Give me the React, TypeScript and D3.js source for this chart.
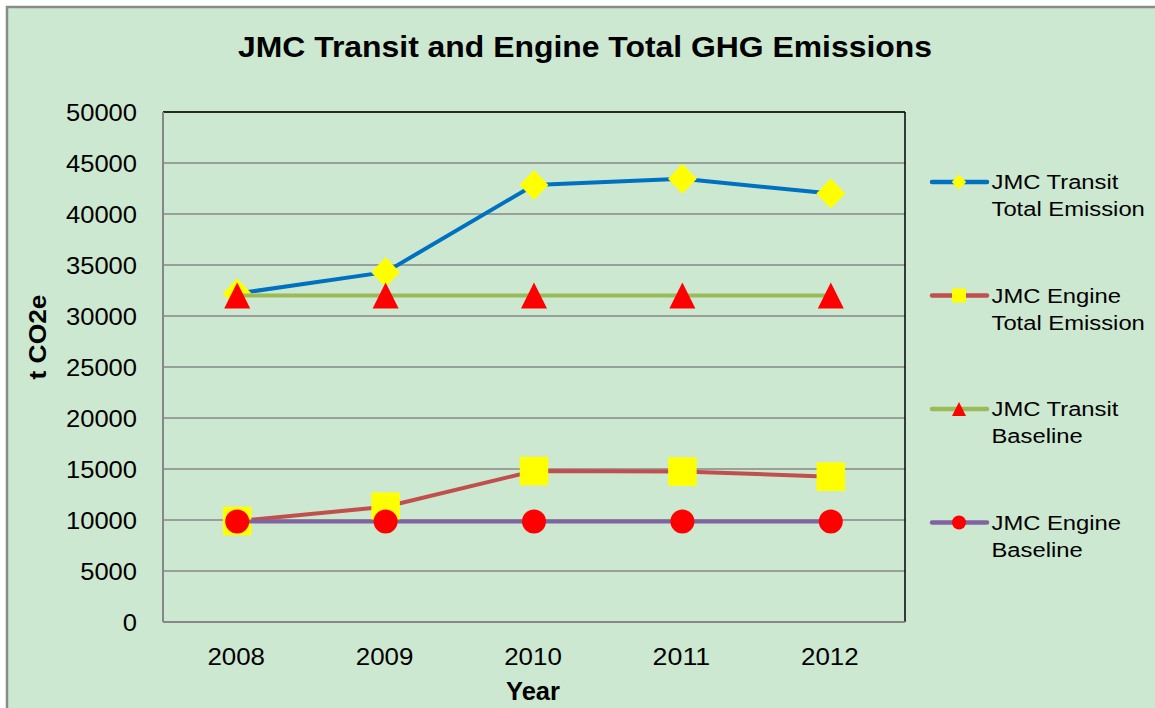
import React from "react";
import * as d3 from "d3";

const years = ["2008", "2009", "2010", "2011", "2012"];
const transitTotal = [32200, 34300, 42850, 43450, 42000];
const engineTotal = [9900, 11300, 14800, 14750, 14250];
const transitBaseline = [32000, 32000, 32000, 32000, 32000];
const engineBaseline = [9850, 9850, 9850, 9850, 9850];
const yTicks = [0, 5000, 10000, 15000, 20000, 25000, 30000, 35000, 40000, 45000, 50000];
const seriesNames = [
  ["JMC Transit", "Total Emission"],
  ["JMC Engine", "Total Emission"],
  ["JMC Transit", "Baseline"],
  ["JMC Engine", "Baseline"],
];

const W = 1155;
const H = 708;
const M = { left: 163, right: 905, top: 112, bottom: 622 };
const FONT = "'Liberation Sans', Arial, sans-serif";

type Shape = "diamond" | "square" | "triangle" | "circle";

function markerPath(shape: Shape, cx: number, cy: number, s: number): string {
  const p = d3.path();
  const h = s / 2;
  if (shape === "diamond") {
    p.moveTo(cx, cy - h);
    p.lineTo(cx + h * 0.96, cy);
    p.lineTo(cx, cy + h);
    p.lineTo(cx - h * 0.96, cy);
    p.closePath();
  } else if (shape === "square") {
    p.rect(cx - h, cy - h, s, s);
  } else if (shape === "triangle") {
    p.moveTo(cx, cy - h);
    p.lineTo(cx + h, cy + h);
    p.lineTo(cx - h, cy + h);
    p.closePath();
  } else {
    p.arc(cx, cy, h, 0, Math.PI * 2);
    p.closePath();
  }
  return p.toString();
}

export default function App() {
  const x = d3.scalePoint<string>().domain(years).range([M.left, M.right]).padding(0.5);
  const y = d3.scaleLinear().domain([0, 50000]).range([M.bottom, M.top]);

  const series = [
    { values: transitTotal, color: "#0070C0", shape: "diamond" as Shape, fill: "#FFFF00", size: 30, lsize: 15 },
    { values: engineTotal, color: "#C0504D", shape: "square" as Shape, fill: "#FFFF00", size: 28.5, lsize: 14 },
    { values: transitBaseline, color: "#9BBB59", shape: "triangle" as Shape, fill: "#FF0000", size: 26, lsize: 14 },
    { values: engineBaseline, color: "#8064A2", shape: "circle" as Shape, fill: "#FF0000", size: 24, lsize: 14 },
  ];

  const line = d3
    .line<number>()
    .x((_, i) => x(years[i]) as number)
    .y((d) => y(d));

  const legendY0 = 182;
  const legendStep = 113.5;

  return (
    <div style={{ position: "absolute", left: 0, top: 0 }}>
      <svg width={W} height={H} style={{ display: "block" }}>
        <rect x={0} y={0} width={W} height={H} fill="#ffffff" />
        <rect x={7} y={7} width={W + 20} height={H + 20} fill="#CDE8D0" stroke="#8a8a8a" strokeWidth={2.5} />

        {/* Title */}
        <text
          x={585}
          y={56.5}
          textAnchor="middle"
          fontFamily={FONT}
          fontWeight="bold"
          fontSize={29}
          textLength={694}
          lengthAdjust="spacingAndGlyphs"
          fill="#000"
        >
          JMC Transit and Engine Total GHG Emissions
        </text>

        {/* Gridlines */}
        {yTicks.map((t) => (
          <line
            key={t}
            x1={M.left}
            x2={M.right}
            y1={y(t)}
            y2={y(t)}
            stroke="#878787"
            strokeWidth={1.3}
          />
        ))}
        {/* Plot border */}
        <line x1={M.left} x2={M.right} y1={M.top} y2={M.top} stroke="#000" strokeWidth={1.3} />
        <line x1={M.right} x2={M.right} y1={M.top} y2={M.bottom} stroke="#000" strokeWidth={1.5} />
        <line x1={M.left} x2={M.left} y1={M.top} y2={M.bottom} stroke="#878787" strokeWidth={2} />
        <line x1={M.left} x2={M.right} y1={M.bottom} y2={M.bottom} stroke="#878787" strokeWidth={2} />

        {/* Y tick labels */}
        {yTicks.map((t) => (
          <text
            key={t}
            x={137}
            y={y(t) + 8.7}
            textAnchor="end"
            fontFamily={FONT}
            fontSize={24.5}
            textLength={String(t).length * 14.2}
            lengthAdjust="spacingAndGlyphs"
            fill="#000"
          >
            {t}
          </text>
        ))}

        {/* X tick labels */}
        {years.map((yr) => (
          <text
            key={yr}
            x={(x(yr) as number) - 1}
            y={664.5}
            textAnchor="middle"
            fontFamily={FONT}
            fontSize={24.5}
            textLength={yr.length * 14.4}
            lengthAdjust="spacingAndGlyphs"
            fill="#000"
          >
            {yr}
          </text>
        ))}

        {/* Axis titles */}
        <text
          x={533}
          y={700}
          textAnchor="middle"
          fontFamily={FONT}
          fontWeight="bold"
          fontSize={25.5}
          fill="#000"
        >
          Year
        </text>
        <text
          transform="translate(46,337) rotate(-90)"
          x={0}
          y={0}
          textAnchor="middle"
          fontFamily={FONT}
          fontWeight="bold"
          fontSize={24}
          textLength={85}
          lengthAdjust="spacingAndGlyphs"
          fill="#000"
        >
          t CO2e
        </text>

        {/* Series */}
        {series.map((s, si) => (
          <g key={si}>
            <path d={line(s.values) || ""} fill="none" stroke={s.color} strokeWidth={4} strokeLinejoin="round" />
            {s.values.map((v, i) => (
              <path key={i} d={markerPath(s.shape, x(years[i]) as number, y(v), s.size)} fill={s.fill} />
            ))}
          </g>
        ))}

        {/* Legend */}
        {series.map((s, si) => {
          const ly = legendY0 + si * legendStep;
          return (
            <g key={si}>
              <line x1={932} x2={987} y1={ly} y2={ly} stroke={s.color} strokeWidth={4.5} strokeLinecap="round" />
              <path d={markerPath(s.shape, 959, ly, s.lsize)} fill={s.fill} />
              <g transform={`translate(991.5,0) scale(1.19,1)`}>
                <text x={0} y={ly + 7.5} fontFamily={FONT} fontSize={20} fill="#000">
                  {seriesNames[si][0]}
                </text>
                <text x={0} y={ly + 34.5} fontFamily={FONT} fontSize={20} fill="#000">
                  {seriesNames[si][1]}
                </text>
              </g>
            </g>
          );
        })}
      </svg>
    </div>
  );
}
